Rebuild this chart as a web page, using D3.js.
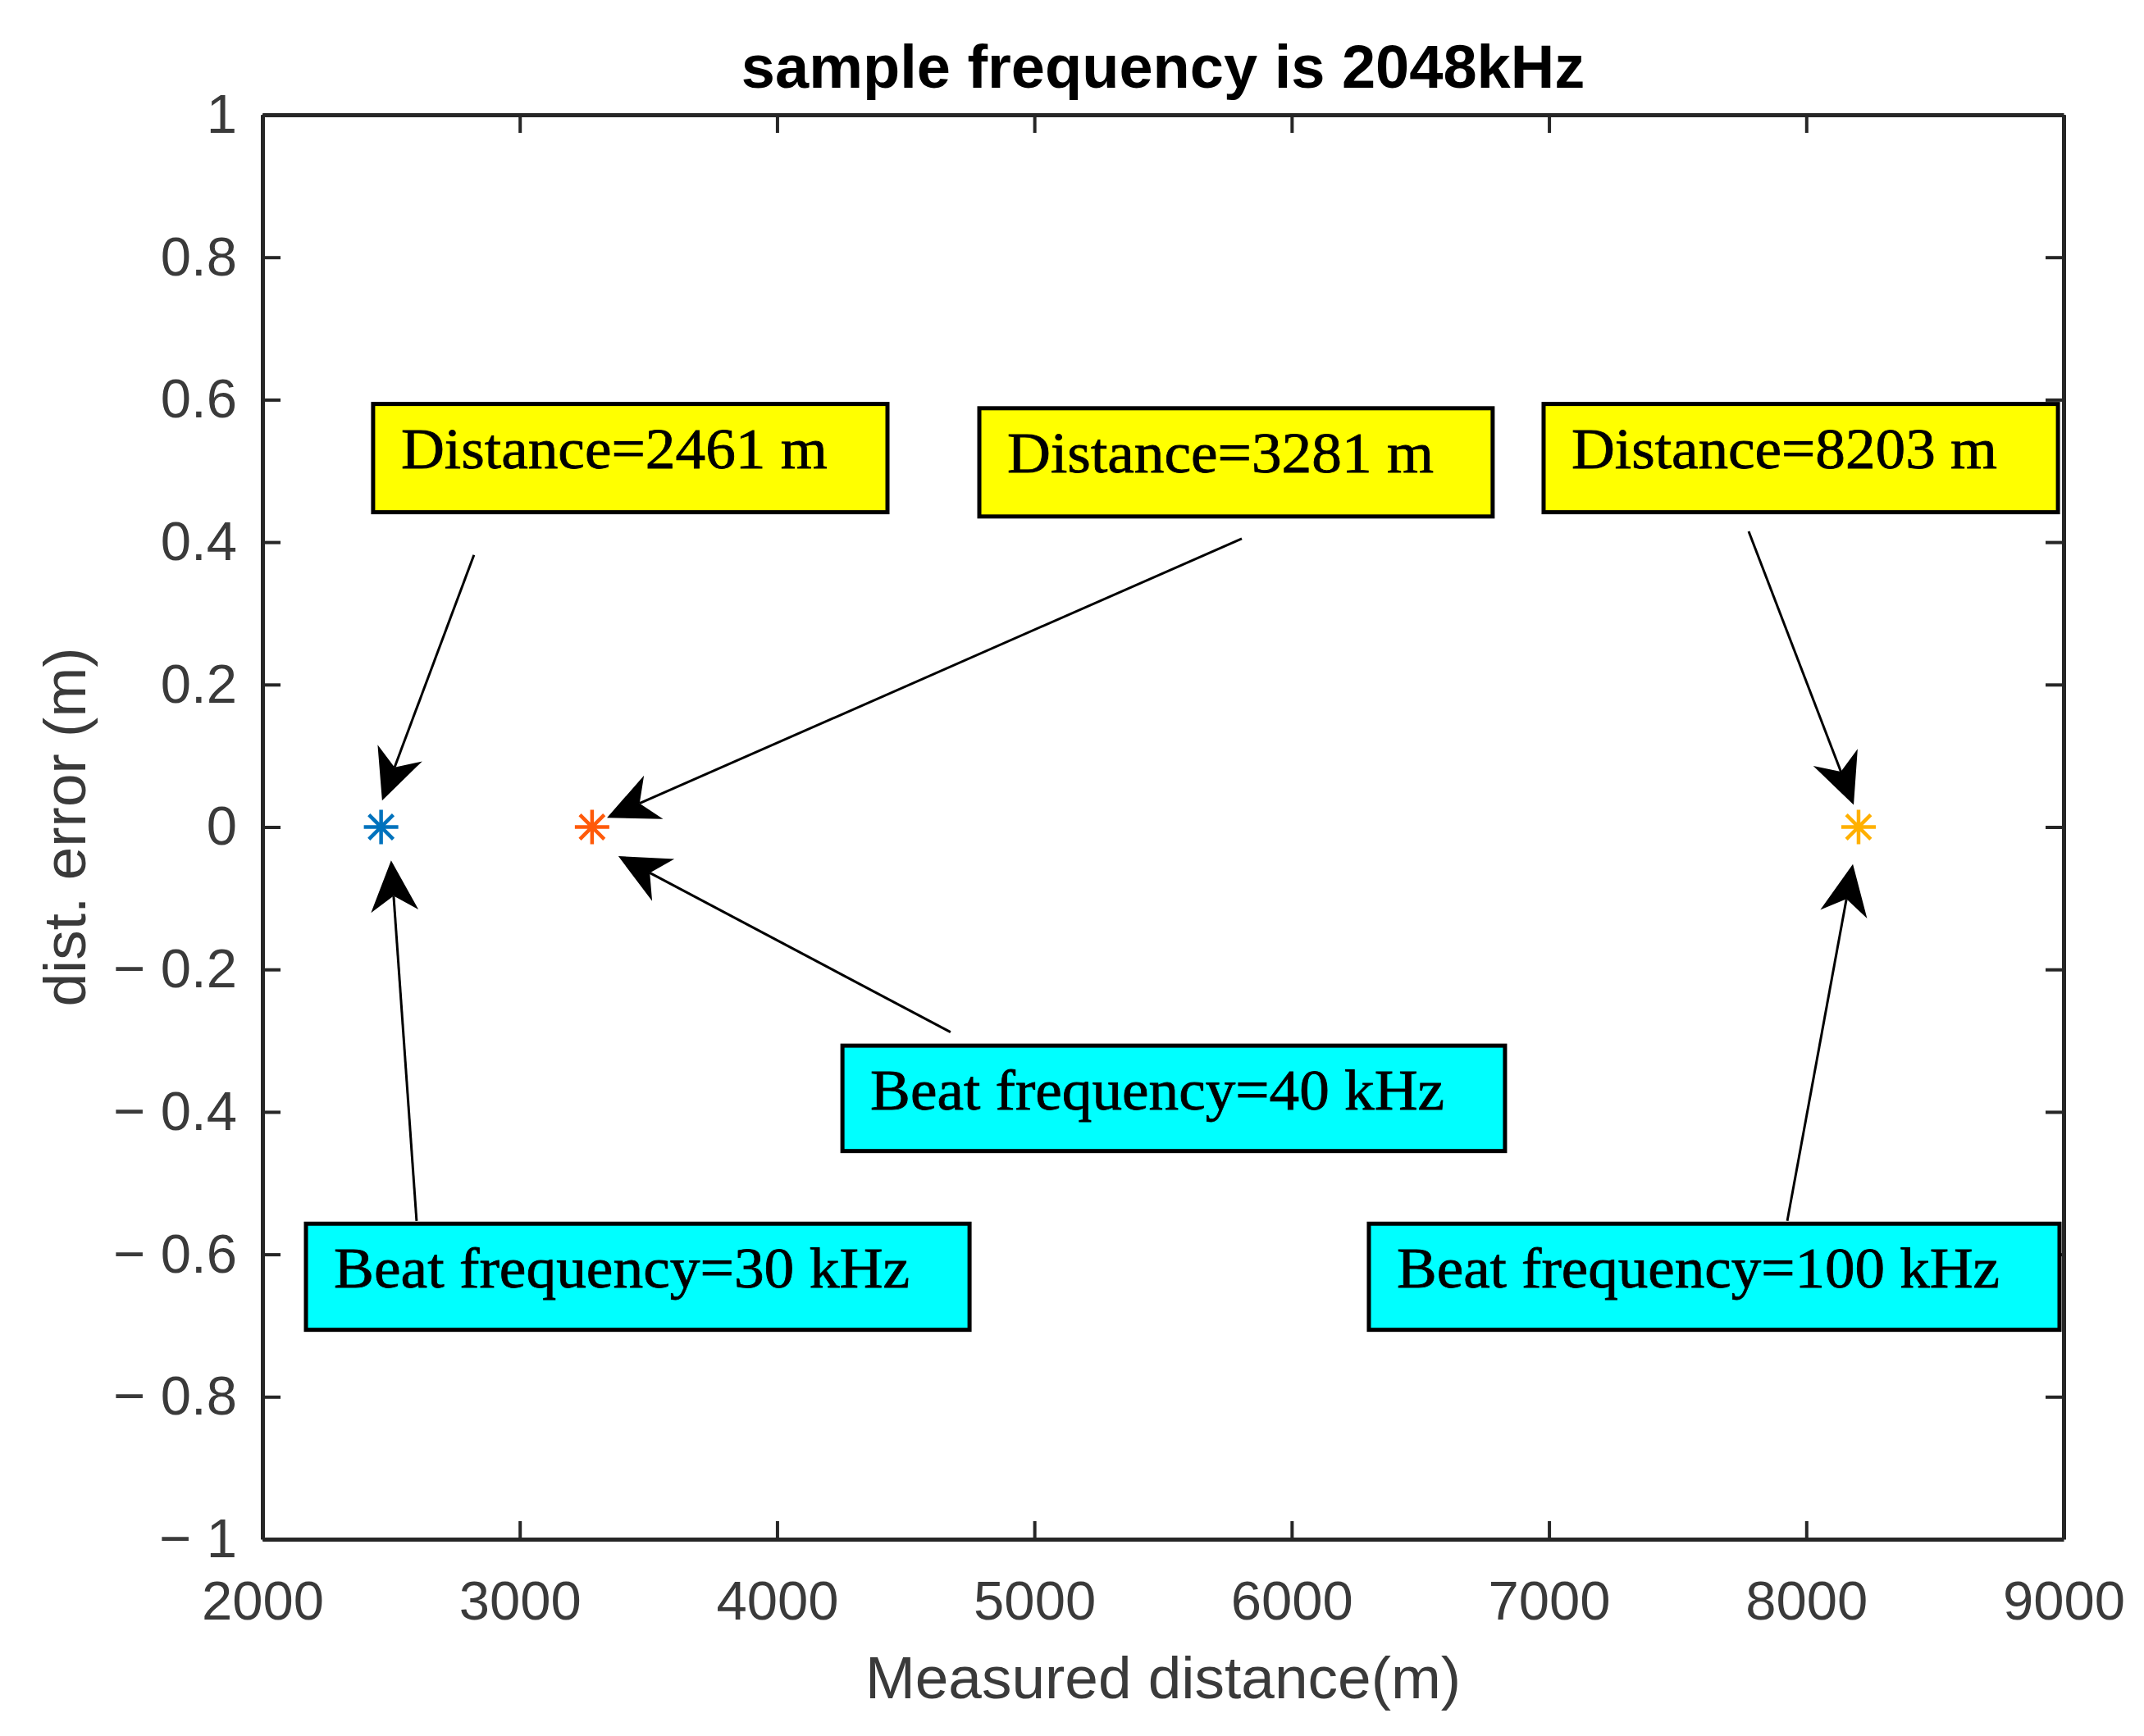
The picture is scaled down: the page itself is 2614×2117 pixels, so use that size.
<!DOCTYPE html>
<html>
<head>
<meta charset="utf-8">
<script src="https://cdn.jsdelivr.net/npm/d3@7/dist/d3.min.js"></script>
<style>
  html, body { margin: 0; padding: 0; background: #fff; }
  svg { display: block; }
</style>
</head>
<body>
<svg id="chart" width="2614" height="2117"></svg>
<script>
// ---------------- data ----------------
const measuredDistance = [2461, 3281, 8203];
const distError = [0, 0, 0];
const seriesColors = ["#0072BD", "#FF5A0A", "#FFB000"];

const xTicks = [2000, 3000, 4000, 5000, 6000, 7000, 8000, 9000];
const yTicks = [1, 0.8, 0.6, 0.4, 0.2, 0, -0.2, -0.4, -0.6, -0.8, -1];
const yTickLabels = ["1", "0.8", "0.6", "0.4", "0.2", "0", "\u2212 0.2", "\u2212 0.4", "\u2212 0.6", "\u2212 0.8", "\u2212 1"];

const titleText = "sample frequency is 2048kHz";
const xLabelText = "Measured distance(m)";
const yLabelText = "dist. error (m)";

// annotation text boxes (data coordinates: x0,x1, yTop,yBottom)
const boxTexts = ["Distance=2461 m", "Distance=3281 m", "Distance=8203 m",
                  "Beat frequency=40 kHz", "Beat frequency=30 kHz", "Beat frequency=100 kHz"];
const boxX0 = [2430, 4786, 6979, 4254, 2169, 6300];
const boxX1 = [4429, 6781, 8978, 6829, 4748, 8984];
const boxYTop = [0.594, 0.588, 0.594, -0.307, -0.557, -0.557];
const boxYBot = [0.442, 0.436, 0.442, -0.455, -0.706, -0.706];
const boxFill = ["#FFFF00", "#FFFF00", "#FFFF00", "#00FFFF", "#00FFFF", "#00FFFF"];
const boxTextWidth = [520, 520, 519, 700, 702, 735];

// arrows (data coordinates, from tail to head)
const arrowX1 = [2822, 5806, 7776, 4674, 2599, 7926];
const arrowY1 = [0.382, 0.405, 0.415, -0.288, -0.553, -0.553];
const arrowX2 = [2465, 3339, 8184, 3383, 2500, 8181];
const arrowY2 = [0.037, 0.013, 0.031, -0.041, -0.047, -0.052];

// ---------------- layout ----------------
const svg = d3.select("#chart");
const W = 2614, H = 2117;
const m = { left: 320, right: 2516, top: 140, bottom: 1877 };

svg.append("rect").attr("width", W).attr("height", H).attr("fill", "#fff");

const x = d3.scaleLinear().domain([2000, 9000]).range([m.left, m.right]);
const y = d3.scaleLinear().domain([-1, 1]).range([m.bottom, m.top]);

const axisColor = "#262626";
const textColor = "#3a3a3a";
const sansFont = "'Liberation Sans', Arial, Helvetica, sans-serif";
const serifFont = "'Liberation Serif', 'Times New Roman', serif";

function styleAxis(g) {
  g.select(".domain").attr("stroke", axisColor).attr("stroke-width", 5);
  g.selectAll(".tick line").attr("stroke", axisColor).attr("stroke-width", 4);
  g.selectAll(".tick text").attr("fill", textColor)
    .style("font-family", sansFont).style("font-size", "67px");
}

const gx = svg.append("g").attr("transform", `translate(0,${m.bottom})`)
  .call(d3.axisBottom(x).tickValues(xTicks).tickFormat(d3.format("d"))
        .tickSize(-22).tickSizeOuter(0).tickPadding(50));
styleAxis(gx);

const gxt = svg.append("g").attr("transform", `translate(0,${m.top})`)
  .call(d3.axisTop(x).tickValues(xTicks).tickFormat("").tickSize(-22).tickSizeOuter(0));
styleAxis(gxt);

const gy = svg.append("g").attr("transform", `translate(${m.left},0)`)
  .call(d3.axisLeft(y).tickValues(yTicks).tickFormat((d, i) => yTickLabels[i])
        .tickSize(-22).tickSizeOuter(0).tickPadding(31));
styleAxis(gy);

const gyr = svg.append("g").attr("transform", `translate(${m.right},0)`)
  .call(d3.axisRight(y).tickValues(yTicks).tickFormat("").tickSize(-22).tickSizeOuter(0));
styleAxis(gyr);

// ---------------- labels ----------------
svg.append("text").attr("x", (m.left + m.right) / 2).attr("y", 107)
  .attr("text-anchor", "middle").attr("fill", "#000")
  .style("font-family", sansFont).style("font-size", "74px").style("font-weight", "bold")
  .text(titleText);

svg.append("text").attr("x", (m.left + m.right) / 2).attr("y", 2071)
  .attr("text-anchor", "middle").attr("fill", textColor)
  .style("font-family", sansFont).style("font-size", "73px")
  .text(xLabelText);

svg.append("text")
  .attr("transform", `translate(104,${(m.top + m.bottom) / 2}) rotate(-90)`)
  .attr("text-anchor", "middle").attr("fill", textColor)
  .style("font-family", sansFont).style("font-size", "73px")
  .text(yLabelText);

// ---------------- markers (asterisks) ----------------
const arm = 21;
const star = `M${-arm},0L${arm},0M0,${-arm}L0,${arm}` +
  `M${-arm * 0.7071},${-arm * 0.7071}L${arm * 0.7071},${arm * 0.7071}` +
  `M${-arm * 0.7071},${arm * 0.7071}L${arm * 0.7071},${-arm * 0.7071}`;

svg.append("g").selectAll("path").data(measuredDistance).join("path")
  .attr("transform", (d, i) => `translate(${x(d)},${y(distError[i])})`)
  .attr("d", star)
  .attr("fill", "none")
  .attr("stroke", (d, i) => seriesColors[i])
  .attr("stroke-width", 4.5);

// ---------------- arrows ----------------
const headL = 62, headW = 58, notch = 0.7;
const ga = svg.append("g");
arrowX1.forEach((ax, i) => {
  const x1 = x(ax), y1 = y(arrowY1[i]), x2 = x(arrowX2[i]), y2 = y(arrowY2[i]);
  const ang = Math.atan2(y2 - y1, x2 - x1);
  const ux = Math.cos(ang), uy = Math.sin(ang);
  const px = -uy, py = ux;
  const bx = x2 - ux * headL, by = y2 - uy * headL;
  const nx = x2 - ux * headL * notch, ny = y2 - uy * headL * notch;
  ga.append("line").attr("x1", x1).attr("y1", y1).attr("x2", nx).attr("y2", ny)
    .attr("stroke", "#000").attr("stroke-width", 3);
  ga.append("path")
    .attr("d", `M${x2},${y2}L${bx + px * headW / 2},${by + py * headW / 2}` +
               `L${nx},${ny}L${bx - px * headW / 2},${by - py * headW / 2}Z`)
    .attr("fill", "#000");
});

// ---------------- text boxes ----------------
const gb = svg.append("g");
boxTexts.forEach((t, i) => {
  const bx0 = x(boxX0[i]), bx1 = x(boxX1[i]);
  const by0 = y(boxYTop[i]), by1 = y(boxYBot[i]);
  gb.append("rect").attr("x", bx0).attr("y", by0)
    .attr("width", bx1 - bx0).attr("height", by1 - by0)
    .attr("fill", boxFill[i]).attr("stroke", "#000").attr("stroke-width", 5);
  gb.append("text").attr("x", bx0 + 34).attr("y", by0 + 78)
    .attr("fill", "#000").attr("stroke", "#000").attr("stroke-width", 0.8)
    .attr("textLength", boxTextWidth[i]).attr("lengthAdjust", "spacingAndGlyphs")
    .style("font-family", serifFont).style("font-size", "70px")
    .text(t);
});
</script>
</body>
</html>
